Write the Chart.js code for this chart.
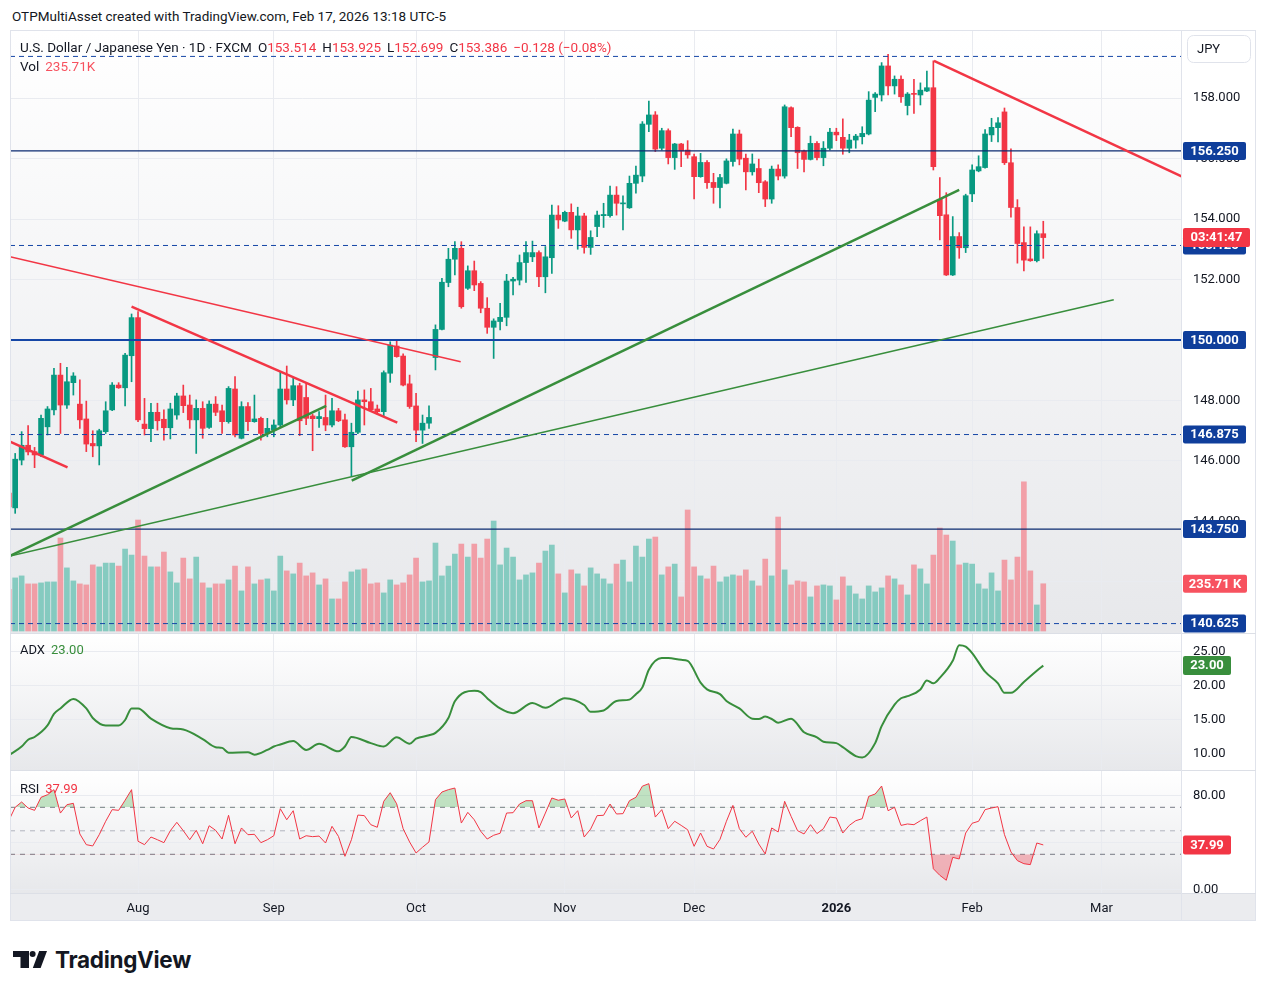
<!DOCTYPE html>
<html>
<head>
<meta charset="utf-8">
<title>USDJPY 1D</title>
<script src="https://cdn.jsdelivr.net/npm/chart.js@4.4.1/dist/chart.umd.min.js"></script>
<style>
  html, body { margin: 0; padding: 0; background: #ffffff; }
  body { width: 1267px; height: 991px; position: relative; overflow: hidden;
         font-family: Roboto, "Noto Sans", sans-serif; color: #131722; }
  canvas { position: absolute; left: 10px; z-index: 1; }
  #priceCanvas { top: 31px; }
  #adxCanvas { top: 634px; }
  #rsiCanvas { top: 771px; }
  .frame { position: absolute; left: 10px; top: 30px; width: 1246px; height: 891px;
           box-sizing: border-box; border: 1px solid #e0e3eb; z-index: 3; pointer-events: none; }
  .sep { position: absolute; left: 10px; width: 1246px; height: 1px; background: #dcdfe6; z-index: 3; }
  .vsep { position: absolute; left: 1181px; top: 30px; width: 1px; height: 891px; background: #e0e3eb; z-index: 3; }
  .txt { position: absolute; white-space: nowrap; line-height: 1; z-index: 2; }
  .red { color: #F23645; }
  .vol { color: #F7525F; }
  .green { color: #388E3C; }
  .gap { margin-left: 6px; }
  .logo { position: absolute; left: 13px; top: 946px; display: flex; align-items: center; gap: 8px; }
  .logo span { font-family: Inter, Roboto, sans-serif; font-weight: 700; font-size: 22.5px; letter-spacing: -0.3px; color: #131722; }
</style>
</head>
<body>
<div class="txt" style="left:12px;top:10px;font-size:13.5px">OTPMultiAsset created with TradingView.com, Feb 17, 2026 13:18 UTC-5</div>

<canvas id="priceCanvas" width="1246" height="602"></canvas>
<canvas id="adxCanvas" width="1246" height="136"></canvas>
<canvas id="rsiCanvas" width="1246" height="150"></canvas>

<div class="txt" id="legendMain" style="left:20px;top:41px;font-size:13.5px"></div>
<div class="txt" id="legendVol" style="left:20px;top:60px;font-size:13.5px"></div>
<div class="txt" id="legendAdx" style="left:20px;top:643px;font-size:13px"></div>
<div class="txt" id="legendRsi" style="left:20px;top:782px;font-size:13px"></div>

<div class="frame"></div>
<div class="sep" style="top:633px"></div>
<div class="sep" style="top:770px"></div>
<div class="sep" style="top:893px"></div>
<div class="vsep"></div>

<div class="logo">
  <svg width="34" height="17" viewBox="0 0 34 17"><path d="M0 0H16V17H7.5V6H0Z" fill="#131722"/><circle cx="19.6" cy="3" r="3" fill="#131722"/><path d="M26.2 0H34L27.6 17H19.8Z" fill="#131722"/></svg>
  <span>TradingView</span>
</div>

<script>
// first bar is only partly visible on the left edge, it sits at index -1
const FIRST_BAR = -1;

const opens = [144.94, 144.45, 146.03, 146.52, 146.31, 146.20, 147.13, 147.69, 148.84, 147.85,
  148.59, 147.88, 147.39, 146.58, 146.50, 146.97, 147.69, 148.51, 148.42, 149.48,
  150.74, 147.22, 147.07, 147.61, 147.38, 147.10, 147.52, 148.15, 147.85, 147.36,
  147.74, 147.11, 147.88, 147.66, 147.30, 148.38, 146.75, 147.80, 147.30, 147.41,
  146.91, 147.02, 147.19, 148.38, 148.02, 148.49, 148.10, 147.49, 147.40, 147.44,
  147.19, 147.66, 147.36, 146.47, 146.95, 148.02, 147.96, 147.72, 147.63, 148.90,
  149.80, 149.47, 148.55, 147.82, 147.02, 147.25, 149.42, 150.35, 151.90, 152.67,
  153.03, 151.71, 152.29, 151.87, 151.05, 150.42, 150.61, 150.75, 151.95, 151.98,
  152.56, 152.75, 152.89, 152.09, 152.72, 154.13, 153.93, 154.22, 153.64, 154.10,
  153.06, 153.75, 154.11, 154.11, 154.79, 154.50, 154.37, 155.18, 155.42, 157.13,
  157.44, 156.34, 156.92, 156.03, 156.48, 156.28, 156.06, 155.40, 155.87, 155.21,
  155.04, 155.18, 155.90, 156.81, 156.01, 155.56, 155.67, 155.23, 154.66, 155.65,
  155.42, 157.68, 157.03, 156.25, 155.97, 156.50, 156.03, 156.34, 156.87, 156.70,
  156.34, 156.61, 156.72, 156.81, 158.02, 158.10, 159.06, 158.40, 158.62, 157.75,
  158.15, 158.10, 158.23, 158.34, 154.65, 154.14, 152.15, 153.42, 153.05, 154.83,
  155.59, 155.70, 156.78, 157.02, 157.54, 155.86, 154.38, 153.22, 152.68, 152.62,
  153.514];

const highs = [145.20, 146.25, 146.97, 147.17, 146.45, 147.52, 147.80, 149.06, 149.23, 149.10,
  148.92, 148.68, 147.98, 147.00, 147.05, 147.96, 148.59, 148.59, 149.56, 150.86,
  150.94, 148.07, 147.91, 147.91, 147.69, 147.91, 148.24, 148.51, 148.18, 148.02,
  147.96, 147.99, 148.13, 147.85, 148.46, 148.79, 147.96, 147.93, 148.18, 147.45,
  147.41, 147.36, 148.95, 149.14, 148.77, 148.57, 148.57, 147.55, 147.63, 148.18,
  148.07, 147.74, 147.55, 147.25, 148.31, 148.35, 148.40, 147.85, 148.98, 149.94,
  150.00, 149.54, 148.84, 148.24, 147.52, 147.82, 150.50, 152.04, 153.03, 153.25,
  153.25, 152.45, 152.61, 151.93, 151.40, 150.70, 151.21, 152.17, 152.07, 152.81,
  153.25, 153.27, 152.95, 153.09, 154.46, 154.44, 154.26, 154.50, 154.39, 154.19,
  153.61, 154.26, 154.52, 155.09, 155.07, 154.77, 155.42, 155.75, 157.22, 157.90,
  157.55, 157.00, 156.98, 156.50, 156.50, 156.59, 156.15, 156.17, 155.93, 155.51,
  155.48, 155.99, 156.97, 156.94, 156.15, 156.15, 155.98, 155.27, 155.75, 155.79,
  157.77, 157.71, 157.05, 156.28, 156.74, 156.56, 156.56, 157.00, 157.00, 157.31,
  156.80, 156.80, 157.05, 158.21, 158.18, 159.17, 159.44, 158.73, 158.73, 158.18,
  158.62, 158.50, 158.89, 159.23, 155.37, 154.87, 154.08, 153.55, 154.82, 155.79,
  156.09, 156.96, 157.33, 157.35, 157.67, 156.32, 154.64, 153.74, 153.74, 153.61,
  153.925];

const lows = [144.30, 144.27, 145.87, 146.20, 145.78, 146.14, 146.86, 147.52, 146.91, 147.74,
  148.18, 147.08, 146.31, 146.14, 145.87, 146.91, 147.66, 148.40, 147.82, 148.62,
  147.30, 146.86, 146.64, 147.02, 146.69, 146.73, 147.38, 147.60, 147.08, 146.25,
  146.75, 147.08, 147.50, 146.91, 147.25, 146.80, 146.73, 147.00, 147.28, 146.69,
  146.80, 146.80, 147.13, 147.88, 147.83, 146.84, 147.20, 146.34, 147.11, 147.00,
  147.13, 147.30, 146.45, 145.50, 146.90, 147.19, 147.63, 147.55, 147.49, 148.60,
  149.43, 148.48, 147.74, 146.64, 146.58, 147.08, 149.01, 150.33, 151.76, 152.15,
  151.05, 151.67, 151.63, 150.90, 150.22, 149.39, 150.33, 150.47, 151.49, 151.82,
  151.90, 152.59, 151.76, 151.56, 152.20, 153.69, 153.91, 153.36, 153.00, 152.87,
  152.83, 153.42, 153.72, 154.06, 154.13, 153.64, 154.35, 154.85, 155.23, 156.89,
  156.23, 156.28, 155.82, 155.64, 155.73, 156.01, 154.66, 155.38, 155.01, 154.52,
  154.37, 155.16, 155.75, 155.79, 154.96, 155.45, 154.87, 154.41, 154.52, 155.29,
  155.35, 156.72, 155.67, 155.56, 155.95, 155.95, 155.76, 156.28, 156.59, 156.14,
  156.19, 156.34, 156.48, 156.78, 157.55, 157.90, 158.10, 158.13, 157.85, 157.44,
  157.49, 157.77, 158.21, 155.62, 153.31, 152.13, 152.13, 152.70, 152.89, 154.57,
  155.56, 155.68, 156.56, 156.55, 155.80, 154.06, 152.54, 152.28, 152.60, 152.58,
  152.699];

const closes = [144.48, 146.06, 146.52, 146.30, 146.20, 147.41, 147.72, 148.84, 147.85, 148.62,
  148.81, 147.36, 146.56, 146.50, 147.00, 147.66, 148.51, 148.42, 149.50, 150.74,
  147.36, 147.07, 147.61, 147.33, 147.10, 147.72, 148.15, 147.83, 147.36, 147.74,
  147.08, 147.88, 147.61, 147.30, 148.40, 146.86, 147.80, 147.30, 147.39, 146.91,
  147.08, 147.19, 148.38, 148.02, 148.49, 147.33, 147.41, 147.40, 147.47, 147.19,
  147.66, 147.33, 146.47, 146.95, 148.02, 147.96, 147.69, 147.63, 148.92, 149.83,
  149.45, 148.51, 147.80, 147.02, 147.25, 147.44, 150.35, 151.91, 152.67, 153.03,
  151.10, 152.29, 151.82, 151.05, 150.42, 150.63, 150.75, 151.95, 152.01, 152.56,
  152.89, 152.89, 152.09, 152.75, 154.13, 153.97, 154.22, 153.64, 154.10, 153.06,
  153.39, 154.13, 154.15, 154.79, 154.52, 154.53, 155.18, 155.45, 157.14, 157.44,
  156.31, 156.92, 156.03, 156.48, 156.25, 156.12, 155.40, 155.87, 155.20, 155.04,
  155.37, 155.92, 156.81, 155.98, 155.56, 155.82, 155.20, 154.66, 155.65, 155.42,
  157.71, 157.02, 156.19, 155.97, 156.50, 156.03, 156.34, 156.87, 156.78, 156.34,
  156.61, 156.74, 156.83, 157.93, 158.13, 159.06, 158.40, 158.62, 158.04, 158.13,
  158.12, 158.26, 158.34, 155.73, 154.11, 152.15, 153.42, 153.05, 154.77, 155.62,
  155.73, 156.81, 157.03, 157.18, 155.86, 154.38, 153.19, 152.64, 152.62, 153.514,
  153.386];

// volume in thousands
const volumes = [208, 265, 275, 235, 235, 240, 245, 245, 464, 315,
  250, 235, 230, 330, 320, 339, 339, 324, 409, 379,
  554, 374, 320, 320, 394, 295, 240, 364, 260, 369,
  240, 215, 235, 235, 255, 324, 200, 320, 235, 255,
  260, 200, 374, 300, 285, 339, 275, 290, 230, 260,
  160, 160, 245, 295, 305, 310, 235, 240, 190, 255,
  230, 240, 280, 364, 245, 250, 439, 275, 324, 384,
  434, 369, 434, 364, 459, 549, 330, 414, 369, 255,
  280, 290, 339, 399, 429, 285, 190, 305, 285, 225,
  315, 285, 260, 235, 334, 354, 245, 424, 369, 459,
  469, 280, 320, 334, 170, 604, 320, 275, 260, 324,
  245, 270, 280, 275, 305, 250, 225, 359, 275, 569,
  305, 230, 250, 245, 170, 225, 230, 225, 155, 270,
  225, 185, 160, 225, 195, 215, 275, 260, 230, 180,
  330, 310, 235, 379, 514, 479, 449, 330, 339, 334,
  235, 210, 290, 200, 354, 255, 369, 744, 300, 130,
  235.71];

const rsiValues = [58.6, 70.0, 74.5, 69.4, 67.4, 78.5, 80.7, 85.0, 65.1, 72.2,
  73.4, 47.3, 38.2, 37.1, 46.7, 58.1, 68.0, 67.4, 76.0, 85.0,
  41.1, 38.2, 44.7, 42.4, 39.9, 50.1, 57.2, 50.1, 42.4, 50.4,
  39.0, 54.3, 50.4, 43.0, 63.2, 39.0, 52.4, 46.7, 47.0, 39.9,
  42.4, 45.8, 68.8, 59.4, 67.1, 43.0, 45.8, 45.0, 45.5, 39.6,
  53.8, 45.2, 28.3, 42.4, 63.4, 62.9, 55.2, 53.0, 75.1, 82.4,
  73.0, 51.8, 40.5, 31.1, 36.0, 40.5, 76.5, 83.0, 85.0, 86.4,
  56.6, 65.7, 59.4, 49.6, 43.0, 46.2, 47.9, 65.1, 65.4, 72.8,
  75.6, 75.6, 52.4, 65.1, 77.9, 76.0, 77.1, 60.9, 67.1, 44.7,
  51.5, 62.9, 63.2, 72.8, 64.3, 64.6, 75.6, 78.5, 88.0, 90.1,
  61.7, 68.0, 51.8, 58.1, 54.6, 50.9, 36.8, 48.1, 36.8, 34.5,
  42.7, 58.1, 71.6, 51.8, 44.5, 49.6, 38.8, 30.3, 52.4, 49.0,
  75.1, 62.3, 50.1, 47.3, 55.2, 47.6, 51.8, 61.7, 60.9, 48.1,
  54.6, 58.6, 60.3, 79.3, 81.3, 88.1, 67.1, 70.0, 54.6, 55.8,
  55.2, 58.6, 61.7, 17.7, 12.1, 7.9, 27.4, 26.0, 48.1, 56.4,
  58.1, 68.0, 69.4, 70.5, 46.7, 32.0, 24.6, 22.0, 21.2, 39.6,
  37.99];

// ADX at its turning points (bar index, value)
const adxIdx = [-1, 1, 2, 3, 5, 6, 7, 9, 11, 12, 14, 16, 17, 18, 19, 21, 24, 26, 29, 31,
  32, 33, 36, 37, 39, 40, 41, 43, 45, 47, 50, 51, 52, 55, 57, 59, 61, 62, 64, 65,
  67, 68, 71, 72, 73, 75, 77, 80, 82, 85, 88, 89, 91, 93, 95, 96, 97, 98, 100, 101,
  103, 104, 106, 107, 109, 110, 112, 114, 115, 116, 117, 118, 120, 122, 124, 125, 127, 128, 130, 131,
  133, 134, 136, 137, 138, 140, 141, 142, 143, 145, 146, 147, 148, 150, 152, 153, 154, 156, 158, 159];
const adxValues = [9.8, 11.1, 12.1, 12.5, 14.2, 15.9, 16.7, 18.1, 16.7, 15.3, 14.2, 14.2, 15.0, 16.7, 16.7, 15.2, 13.8, 13.6, 12.2, 11.0,
  10.9, 10.2, 10.25, 9.9, 10.6, 11.1, 11.4, 11.9, 10.6, 11.5, 10.4, 11.1, 12.5, 11.6, 11.1, 12.45, 11.5, 12.25, 12.75, 13.1,
  15.3, 17.75, 19.3, 19.1, 18.2, 16.7, 16.0, 17.5, 16.8, 18.2, 17.2, 16.2, 16.4, 17.8, 18.0, 18.8, 19.8, 22.4, 24.1, 24.1,
  23.85, 23.7, 20.5, 19.5, 18.8, 17.8, 16.7, 15.2, 15.15, 15.5, 15.15, 14.6, 15.2, 13.2, 12.45, 11.8, 11.6, 11.0, 9.7, 9.5,
  11.6, 14.1, 17.25, 18.2, 18.5, 19.5, 20.8, 20.4, 21.2, 23.7, 26.0, 25.8, 24.85, 22.1, 20.4, 19.0, 19.0, 20.6, 22.25, 23.0];

// month starts (bar index) and their labels
const monthIdx = [19, 40, 62, 85, 105, 127, 148, 168];
const monthLabels = ['Aug', 'Sep', 'Oct', 'Nov', 'Dec', '2026', 'Feb', 'Mar'];

const priceTicks = [142, 144, 146, 148, 150, 152, 154, 156, 158];
const adxTicks = [10, 15, 20, 25];
const rsiTicks = [0, 40, 80];
const rsiBands = [70, 50, 30];

// horizontal levels drawn on the chart
const levelsDashed = [159.375, 153.125, 146.875, 140.625];
const levelsSolid = [156.25, 143.75];
const levelMain = 150;
const levelTags = [156.25, 153.125, 150, 146.875, 143.75, 140.625];

// trend lines: [bar index, price] pairs
const redThin = [[[-0.8, 152.75], [68.9, 149.28]]];
const redThick = [
  [[18, 151.10], [59.1, 147.27]],
  [[-0.8, 146.64], [8.1, 145.79]],
  [[142.1, 159.23], [180.4, 155.41]]
];
const greenThick = [
  [[-0.8, 142.86], [48.1, 147.82]],
  [[52.05, 145.35], [146.0, 154.96]]
];
const greenThin = [[[-0.8, 142.86], [169.9, 151.33]]];

const countdown = '03:41:47';

// ---------- look ----------
const X_MIN = -0.8, X_MAX = 180.3;
const AXIS_W = 75;
const UP = '#089981', DOWN = '#F23645';
const VOL_UP = 'rgba(34,171,148,0.5)', VOL_DOWN = 'rgba(247,82,95,0.5)';
const GREEN = '#388E3C', RED = '#F23645';
const NAVY = '#0F3E9B', LEVEL = '#1546A6', LEVEL_DARK = '#0a2a70';
const GRID = '#e9ebf0';
const FONT = 'Roboto, "Noto Sans", sans-serif';

const last = closes.length - 1;
const barX = k => FIRST_BAR + k;
const isUp = k => closes[k] >= opens[k];

function noPad(a) { a.paddingTop = 0; a.paddingBottom = 0; a.paddingLeft = 0; a.paddingRight = 0; }

function timeAxis(showLabels) {
  return {
    type: 'linear', min: X_MIN, max: X_MAX, offset: false,
    afterBuildTicks: a => { a.ticks = monthIdx.map(v => ({ value: v })); },
    grid: { color: GRID, drawTicks: false, offset: false },
    border: { display: false },
    ticks: {
      display: showLabels, padding: 8, color: '#131722', autoSkip: false, maxRotation: 0,
      callback: v => monthLabels[monthIdx.indexOf(v)],
      font: c => ({ family: FONT, size: 13, weight: c.tick && c.tick.label === '2026' ? 'bold' : 'normal' })
    },
    afterFit: a => { a.height = showLabels ? 28 : 0; noPad(a); }
  };
}

function valueAxis(min, max, ticks, digits) {
  return {
    position: 'right', min, max,
    afterBuildTicks: a => { a.ticks = ticks.map(v => ({ value: v })); },
    grid: { color: GRID, drawTicks: false },
    border: { display: false },
    ticks: { padding: 12, color: '#131722', autoSkip: false, font: { family: FONT, size: 13 }, callback: v => v.toFixed(digits) },
    afterFit: a => { a.width = AXIS_W; noPad(a); }
  };
}

function paneBackground(bottom) {
  return {
    id: 'paneBg',
    beforeDraw(chart) {
      const { ctx, chartArea: a } = chart;
      const g = ctx.createLinearGradient(0, a.top, 0, a.bottom);
      g.addColorStop(0, '#ffffff');
      g.addColorStop(1, bottom);
      ctx.save();
      ctx.fillStyle = g;
      ctx.fillRect(a.left, a.top, a.right - a.left, a.bottom - a.top);
      ctx.restore();
    }
  };
}

function tag(ctx, x, yc, w, h, bg, text) {
  ctx.save();
  ctx.fillStyle = bg;
  ctx.beginPath();
  ctx.roundRect(x, yc - h / 2, w, h, 2);
  ctx.fill();
  ctx.fillStyle = '#ffffff';
  ctx.font = 'bold 13px ' + FONT;
  ctx.textAlign = 'center';
  ctx.textBaseline = 'middle';
  ctx.fillText(text, x + w / 2, yc + 0.5);
  ctx.restore();
}

function segment(pts, color, width, dash) {
  return {
    type: 'line', data: pts.map(p => ({ x: p[0], y: p[1] })), yAxisID: 'y',
    borderColor: color, borderWidth: width, borderDash: dash || [], pointRadius: 0, fill: false, order: 1
  };
}

function hline(v, color, width, dash, axis) {
  return {
    type: 'line', data: [{ x: X_MIN, y: v }, { x: X_MAX, y: v }], yAxisID: axis || 'y',
    borderColor: color, borderWidth: width, borderDash: dash || [], pointRadius: 0, fill: false, order: 2
  };
}

const common = {
  responsive: false, animation: false, devicePixelRatio: 1, events: [],
  layout: { padding: 0 },
  plugins: { legend: { display: false }, tooltip: { enabled: false } }
};

// ---------- price pane ----------
const candleColors = opens.map((o, k) => isUp(k) ? UP : DOWN);
const volColors = opens.map((o, k) => isUp(k) ? VOL_UP : VOL_DOWN);

const priceDatasets = [
  { type: 'bar', data: volumes.map((v, k) => ({ x: barX(k), y: v })), yAxisID: 'yv',
    backgroundColor: volColors, barThickness: 5, grouped: false, borderWidth: 0, order: 6 },
  { type: 'bar', data: highs.map((h, k) => ({ x: barX(k), y: [lows[k], h] })), yAxisID: 'y',
    backgroundColor: candleColors, barThickness: 1, grouped: false, borderWidth: 0, order: 4 },
  { type: 'bar', data: opens.map((o, k) => ({ x: barX(k), y: [o, closes[k]] })), yAxisID: 'y',
    backgroundColor: candleColors, barThickness: 5, grouped: false, borderWidth: 0, minBarLength: 1, order: 3 }
];
levelsDashed.forEach(v => priceDatasets.push(hline(v, LEVEL, 1, [5, 4])));
levelsSolid.forEach(v => priceDatasets.push(hline(v, LEVEL_DARK, 1.2)));
priceDatasets.push(hline(levelMain, LEVEL, 2));
redThin.forEach(s => priceDatasets.push(segment(s, RED, 1.5)));
redThick.forEach(s => priceDatasets.push(segment(s, RED, 2.5)));
greenThick.forEach(s => priceDatasets.push(segment(s, GREEN, 2.5)));
greenThin.forEach(s => priceDatasets.push(segment(s, GREEN, 1.5)));

new Chart(document.getElementById('priceCanvas'), {
  type: 'bar',
  data: { datasets: priceDatasets },
  options: Object.assign({}, common, {
    scales: {
      x: timeAxis(false),
      y: valueAxis(140.314, 160.215, priceTicks, 3),
      yv: { display: false, min: -10, max: 2995 }
    }
  }),
  plugins: [paneBackground('#e7e8eb'), {
    id: 'priceTags',
    afterDraw(chart) {
      const { ctx, chartArea: a, scales } = chart;
      const x0 = a.right + 2;
      levelTags.forEach(v => tag(ctx, x0, scales.y.getPixelForValue(v), 63, 18, NAVY, v.toFixed(3)));
      tag(ctx, x0, scales.y.getPixelForValue(closes[last]), 67, 19, RED, countdown);
      tag(ctx, x0, scales.yv.getPixelForValue(volumes[last]), 64, 18, '#F7525F', volumes[last].toFixed(2) + ' K');
      ctx.save();
      ctx.fillStyle = '#ffffff';
      ctx.strokeStyle = '#e0e3eb';
      ctx.beginPath();
      ctx.roundRect(x0 + 4.5, 4.5, 63, 27, 6);
      ctx.fill();
      ctx.stroke();
      ctx.fillStyle = '#131722';
      ctx.font = '13px ' + FONT;
      ctx.textBaseline = 'middle';
      ctx.fillText('JPY', x0 + 14, 18.5);
      ctx.restore();
    }
  }]
});

// ---------- ADX pane ----------
new Chart(document.getElementById('adxCanvas'), {
  type: 'line',
  data: { datasets: [{
    data: adxIdx.map((x, k) => ({ x, y: adxValues[k] })),
    borderColor: GREEN, borderWidth: 2, pointRadius: 0, cubicInterpolationMode: 'monotone', fill: false
  }] },
  options: Object.assign({}, common, {
    scales: { x: timeAxis(false), y: valueAxis(7.647, 27.647, adxTicks, 2) }
  }),
  plugins: [paneBackground('#e7e8eb'), {
    id: 'adxTag',
    afterDraw(chart) {
      const { ctx, chartArea: a, scales } = chart;
      tag(ctx, a.right + 2, scales.y.getPixelForValue(adxValues[adxValues.length - 1]), 48, 19, GREEN,
          adxValues[adxValues.length - 1].toFixed(2));
    }
  }]
});

// ---------- RSI pane ----------
const rsiData = rsiValues.map((v, k) => ({ x: barX(k), y: v }));
new Chart(document.getElementById('rsiCanvas'), {
  type: 'line',
  data: { datasets: [
    { data: rsiData, borderColor: RED, borderWidth: 1, pointRadius: 0, order: 0,
      fill: { target: { value: 70 }, above: 'rgba(76,175,80,0.33)', below: 'rgba(0,0,0,0)' } },
    { data: rsiData, borderColor: 'rgba(0,0,0,0)', borderWidth: 0, pointRadius: 0, order: 1,
      fill: { target: { value: 30 }, above: 'rgba(0,0,0,0)', below: 'rgba(242,54,69,0.33)' } },
    hline(rsiBands[0], '#787B86', 1, [5, 5]),
    hline(rsiBands[1], '#b2b5be', 1, [5, 5]),
    hline(rsiBands[2], '#787B86', 1, [5, 5])
  ] },
  options: Object.assign({}, common, {
    scales: { x: timeAxis(true), y: valueAxis(-2.94, 100.89, rsiTicks, 2) }
  }),
  plugins: [paneBackground('#e7e8eb'), {
    id: 'rsiExtras',
    beforeDraw(chart) {
      const { ctx, chartArea: a, width, height } = chart;
      ctx.save();
      ctx.fillStyle = '#ebecef';
      ctx.fillRect(0, a.bottom, width, height - a.bottom);
      ctx.restore();
    },
    afterDraw(chart) {
      const { ctx, chartArea: a, scales, width, height } = chart;
      ctx.save();
      ctx.fillStyle = '#ebecef';
      ctx.fillRect(a.right, a.bottom, width - a.right, height - a.bottom);
      ctx.restore();
      tag(ctx, a.right + 2, scales.y.getPixelForValue(rsiValues[last]), 48, 19, RED, rsiValues[last].toFixed(2));
    }
  }]
});

// ---------- legends ----------
const change = closes[last] - closes[last - 1];
const pct = change / closes[last - 1] * 100;
const signed = (v, d) => (v < 0 ? '\u2212' : '+') + Math.abs(v).toFixed(d);
document.getElementById('legendMain').innerHTML =
  'U.S. Dollar / Japanese Yen \u00b7 1D \u00b7 FXCM' +
  '<span class="gap">O</span><span class="red">' + opens[last].toFixed(3) + '</span>' +
  '<span class="gap">H</span><span class="red">' + highs[last].toFixed(3) + '</span>' +
  '<span class="gap">L</span><span class="red">' + lows[last].toFixed(3) + '</span>' +
  '<span class="gap">C</span><span class="red">' + closes[last].toFixed(3) + '</span>' +
  '<span class="red gap">' + signed(change, 3) + ' (' + signed(pct, 2) + '%)</span>';
document.getElementById('legendVol').innerHTML =
  'Vol<span class="vol" style="margin-left:6px">' + volumes[last].toFixed(2) + 'K</span>';
document.getElementById('legendAdx').innerHTML =
  'ADX<span class="green" style="margin-left:6px">' + adxValues[adxValues.length - 1].toFixed(2) + '</span>';
document.getElementById('legendRsi').innerHTML =
  'RSI<span class="red" style="margin-left:6px">' + rsiValues[last].toFixed(2) + '</span>';
</script>
</body>
</html>
